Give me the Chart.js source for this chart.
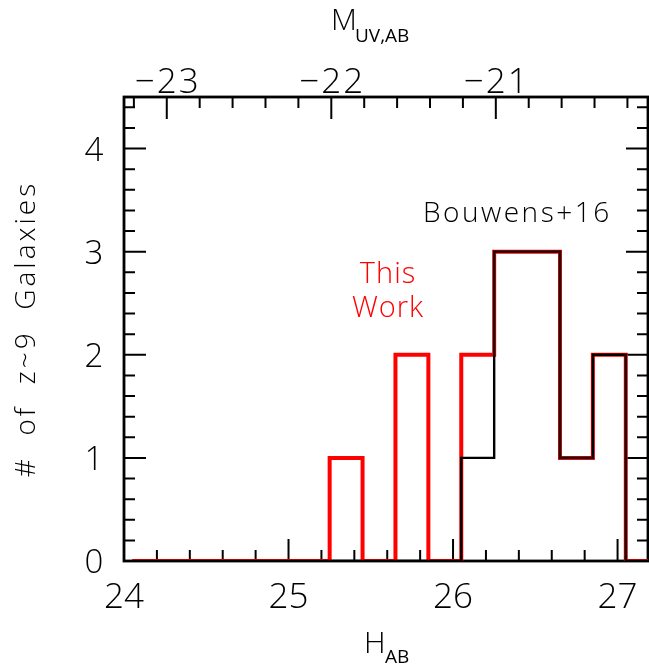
<!DOCTYPE html>
<html>
<head>
<meta charset="utf-8">
<script src="https://cdn.jsdelivr.net/npm/chart.js@4/dist/chart.umd.min.js"></script>
<style>
  html, body { margin: 0; padding: 0; background: #fff; overflow: hidden; }
  #wrap { position: relative; width: 649px; height: 665px; }
</style>
</head>
<body>
<div id="wrap"><canvas id="c" width="649" height="665"></canvas></div>
<script>
// ---- data ----
// lower edges of the 0.2 mag bins in H_AB, plus the closing edge
const binEdges = [24.05, 24.25, 24.45, 24.65, 24.85, 25.05, 25.25, 25.45, 25.65, 25.85, 26.05, 26.25, 26.45, 26.65, 26.85, 27.05, 27.4];
const thisWorkCounts = [0, 0, 0, 0, 0, 0, 1, 0, 2, 0, 2, 3, 3, 1, 2, 0, 0];
const bouwens16Counts = [0, 0, 0, 0, 0, 0, 0, 0, 0, 0, 1, 3, 3, 1, 2, 0, 0];
const xTickLabels = [24, 25, 26, 27];
const yTickLabels = [0, 1, 2, 3, 4];
const topTickLabels = [-23, -22, -21];
const distanceModulus = 47.26; // H_AB - M_UV,AB
const xRange = [24, 27.185];
const yRange = [0, 4.5];

const toPts = (counts) => binEdges.map((e, i) => ({ x: e, y: counts[i] }));

const FONT = '"Open Sans", "DejaVu Sans", sans-serif';

const framePlugin = {
  id: 'frameTicks',
  beforeDatasetsDraw(chart) {
    const { ctx, chartArea: a, scales } = chart;
    const xs = scales.x, ys = scales.y;
    ctx.save();
    ctx.strokeStyle = '#000';
    ctx.lineCap = 'butt';
    ctx.lineWidth = 2;
    const majL = 22, minL = 11;
    // bottom ticks every 0.2 in H_AB
    for (let k = 0; k <= 16; k++) {
      const v = 24 + k * 0.2;
      if (v > xRange[1] + 1e-6) break;
      const px = xs.getPixelForValue(v);
      const L = (k % 5 === 0) ? majL : minL;
      ctx.beginPath();
      ctx.moveTo(px, a.bottom);
      ctx.lineTo(px, a.bottom - L);
      ctx.stroke();
    }
    // top ticks every 0.2 in M_UV
    for (let k = -20; k <= 20; k++) {
      const m = -22 + k * 0.2;
      const h = m + distanceModulus;
      if (h < xRange[0] || h > xRange[1]) continue;
      const px = xs.getPixelForValue(h);
      const major = Math.abs(Math.round(m) - m) < 1e-6;
      const L = major ? majL : minL;
      ctx.beginPath();
      ctx.moveTo(px, a.top);
      ctx.lineTo(px, a.top + L);
      ctx.stroke();
    }
    // left & right ticks
    for (let k = 0; k <= 30; k++) {
      const v = k * 0.2;
      if (v > yRange[1] + 1e-6) break;
      const py = ys.getPixelForValue(v);
      const L = (k % 5 === 0) ? majL : minL;
      ctx.beginPath();
      ctx.moveTo(a.left, py);
      ctx.lineTo(a.left + L, py);
      ctx.moveTo(a.right, py);
      ctx.lineTo(a.right - L, py);
      ctx.stroke();
    }
    // frame
    ctx.lineWidth = 2.8;
    ctx.strokeRect(a.left, a.top, a.right - a.left, a.bottom - a.top);
    ctx.restore();
  },
  afterDraw(chart) {
    const { ctx, scales } = chart;
    const xs = scales.x, ys = scales.y;
    ctx.save();
    ctx.fillStyle = '#000';
    ctx.font = '300 35px ' + FONT;
    ctx.textAlign = 'center';
    ctx.textBaseline = 'alphabetic';
    xTickLabels.forEach(v => ctx.fillText(String(v), xs.getPixelForValue(v), 608));
    ctx.save();
    if ('letterSpacing' in ctx) ctx.letterSpacing = '2px';
    topTickLabels.forEach(v => ctx.fillText('\u2212' + Math.abs(v), xs.getPixelForValue(v + distanceModulus) + 1, 93));
    ctx.restore();
    ctx.font = '300 33px ' + FONT;
    yTickLabels.forEach(v => ctx.fillText(String(v), 94, ys.getPixelForValue(v) + 12));

    // axis titles
    ctx.textAlign = 'left';
    ctx.font = '300 30px ' + FONT;
    ctx.fillText('H', 364, 653);
    ctx.font = '400 19px ' + FONT;
    ctx.fillText('AB', 385, 663);
    ctx.font = '300 30px ' + FONT;
    ctx.fillText('M', 331, 30);
    ctx.font = '400 19px ' + FONT;
    ctx.fillText('UV,AB', 355, 42);

    // y title
    ctx.save();
    ctx.translate(35, 329);
    ctx.rotate(-Math.PI / 2);
    ctx.textAlign = 'center';
    ctx.font = '300 28px ' + FONT;
    if ('letterSpacing' in ctx) ctx.letterSpacing = '3px';
    ctx.fillText('#  of  z~9  Galaxies', 0, 0);
    ctx.restore();

    // annotations
    ctx.save();
    ctx.font = '300 28px ' + FONT;
    if ('letterSpacing' in ctx) ctx.letterSpacing = '2.5px';
    ctx.textAlign = 'left';
    ctx.fillStyle = '#000';
    ctx.fillText('Bouwens+16', 423, 222);
    ctx.fillStyle = '#ff0000';
    ctx.textAlign = 'center';
    ctx.font = '300 29px ' + FONT;
    if ('letterSpacing' in ctx) ctx.letterSpacing = '1px';
    ctx.fillText('This', 388, 283);
    ctx.fillText('Work', 388, 317);
    ctx.restore();
    ctx.restore();
  }
};

new Chart(document.getElementById('c'), {
  type: 'line',
  data: {
    datasets: [
      {
        label: 'Bouwens+16',
        data: toPts(bouwens16Counts),
        borderColor: '#000000',
        borderWidth: 2.4,
        stepped: 'before',
        pointRadius: 0,
        fill: false,
        order: 0
      },
      {
        label: 'This Work',
        data: toPts(thisWorkCounts),
        borderColor: '#ff0000',
        borderWidth: 4,
        stepped: 'before',
        pointRadius: 0,
        fill: false,
        order: 1
      }
    ]
  },
  options: {
    responsive: false,
    animation: false,
    events: [],
    layout: { padding: { left: 124, right: 1, top: 97, bottom: 104 } },
    plugins: { legend: { display: false }, tooltip: { enabled: false } },
    scales: {
      x: { type: 'linear', min: xRange[0], max: xRange[1], display: false },
      y: { type: 'linear', min: yRange[0], max: yRange[1], display: false }
    }
  },
  plugins: [framePlugin]
});
</script>
</body>
</html>
